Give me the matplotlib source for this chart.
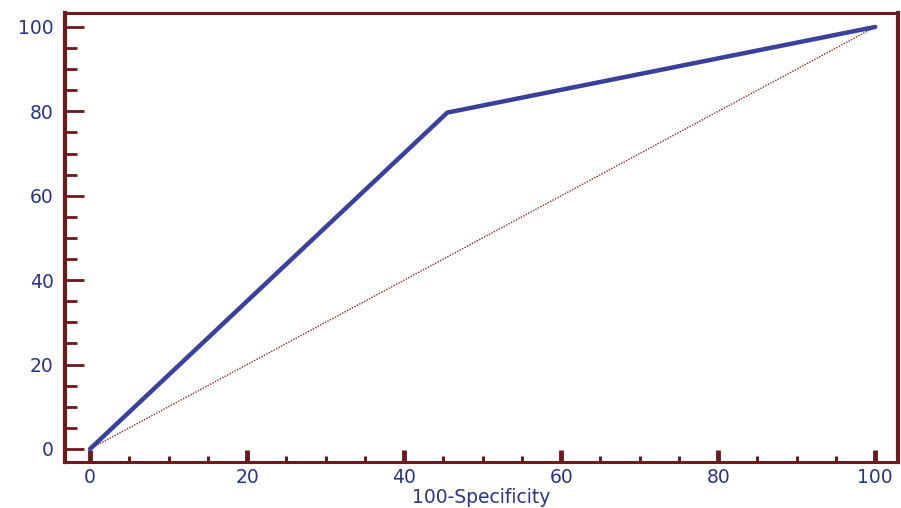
import matplotlib.pyplot as plt
from matplotlib.ticker import MultipleLocator

# ROC curve points
fpr = [0, 45.5, 100]
tpr = [0, 79.7, 100]
diag_x = [0, 100]
diag_y = [0, 100]

frame = '#6b1a1e'
blue = '#3a409c'
txt = '#2b3585'

fig = plt.figure(figsize=(9.01, 5.08), dpi=100)
ax = fig.add_axes([0.0721, 0.0906, 0.9246, 0.8838])

ax.plot(diag_x, diag_y, color='#8b2a2a', lw=1.0, ls=(0, (1, 1)))
ax.plot(fpr, tpr, color=blue, lw=3.2, solid_capstyle='round')

ax.set_xlim(-3.2, 102.9)
ax.set_ylim(-3.1, 103.3)

ax.xaxis.set_major_locator(MultipleLocator(20))
ax.xaxis.set_minor_locator(MultipleLocator(5))
ax.yaxis.set_major_locator(MultipleLocator(20))
ax.yaxis.set_minor_locator(MultipleLocator(5))

for side in ['left', 'right']:
    ax.spines[side].set_linewidth(3.0)
    ax.spines[side].set_color(frame)
for side in ['top', 'bottom']:
    ax.spines[side].set_linewidth(2.2)
    ax.spines[side].set_color(frame)

ax.tick_params(axis='x', which='major', direction='in', length=8.5, width=3.5,
               color=frame, labelcolor=txt, labelsize=13.5, pad=4)
ax.tick_params(axis='x', which='minor', direction='in', length=4.5, width=2.2, color=frame)
ax.tick_params(axis='y', which='major', direction='in', length=14, width=2.0,
               color=frame, labelcolor=txt, labelsize=13.5, pad=8)
ax.tick_params(axis='y', which='minor', direction='in', length=8.5, width=2.0, color=frame)

ax.set_xlabel('100-Specificity', fontsize=13.5, color=txt, labelpad=1)

plt.savefig('out.png', dpi=100)
